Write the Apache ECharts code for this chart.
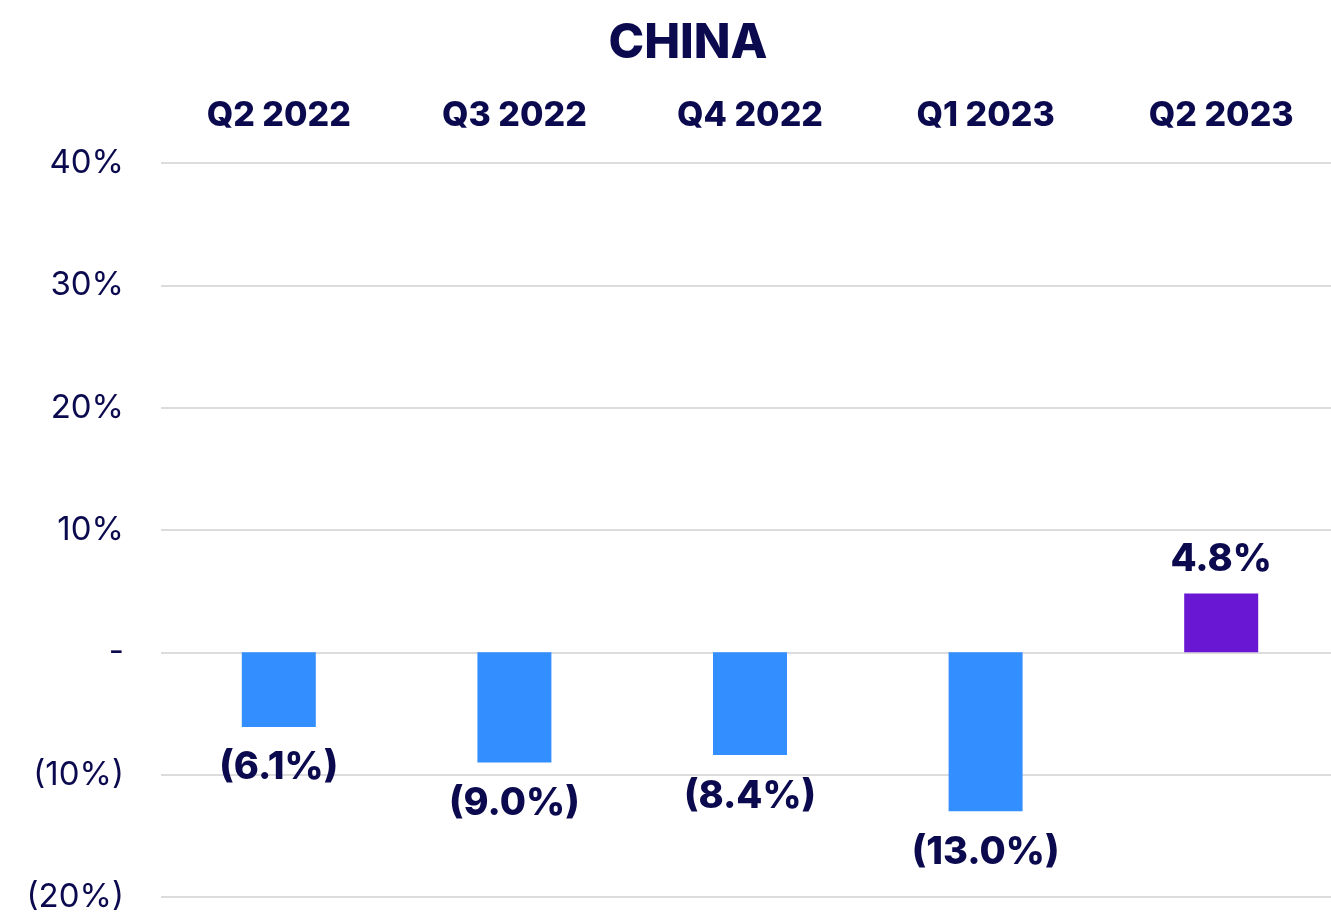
<!DOCTYPE html>
<html>
<head>
<meta charset="utf-8">
<script src="https://cdn.jsdelivr.net/npm/echarts@6/dist/echarts.min.js"></script>
<style>
  html, body { margin: 0; padding: 0; background: #fff; }
  #main { width: 1331px; height: 921px; }
</style>
</head>
<body>
<div id="main"></div>
<script>
const quarters = ['Q2 2022', 'Q3 2022', 'Q4 2022', 'Q1 2023', 'Q2 2023'];
const growth = [-6.1, -9.0, -8.4, -13.0, 4.8];
const barColors = ['#338fff', '#338fff', '#338fff', '#338fff', '#6a17d3'];
const yTicks = { min: -20, max: 40, step: 10 };

const navy = '#0b0a4e';
const fontFam = 'Inter, Lato, sans-serif';

function pct (v) {
  if (v === 0) return '-';
  return v < 0 ? '(' + Math.abs(v).toFixed(1) + '%)' : v.toFixed(1) + '%';
}

var myChart = echarts.init(document.getElementById('main'));

var option = {
  animation: false,
  title: {
    text: 'CHINA',
    left: 683,
    textAlign: 'center',
    top: 15,
    textStyle: { color: navy, fontSize: 48, fontWeight: 800, fontFamily: fontFam }
  },
  grid: { left: 161, right: -8, top: 163, bottom: 24, outerBoundsMode: 'none', containLabel: false },
  xAxis: {
    type: 'category',
    position: 'top',
    data: quarters,
    axisLine: { show: false },
    axisTick: { show: false },
    axisLabel: {
      color: navy, fontSize: 34, fontWeight: 800, fontFamily: fontFam,
      lineHeight: 40, margin: 27
    }
  },
  yAxis: {
    type: 'value',
    min: yTicks.min,
    max: yTicks.max,
    interval: yTicks.step,
    axisLine: { show: false },
    axisTick: { show: false },
    splitLine: { lineStyle: { color: '#dcdcdc', width: 2 } },
    axisLabel: {
      color: navy, fontSize: 33, fontFamily: fontFam, margin: 37,
      formatter: function (v) {
        if (v === 0) return '-';
        return v < 0 ? '(' + Math.abs(v) + '%)' : v + '%';
      }
    }
  },
  series: [{
    type: 'bar',
    barWidth: 74,
    data: growth.map(function (v, i) {
      return {
        value: v,
        itemStyle: { color: barColors[i] },
        label: {
          position: v < 0 ? 'bottom' : 'top',
          distance: v < 0 ? 19 : 12
        }
      };
    }),
    label: {
      show: true,
      color: navy, fontSize: 38, fontWeight: 800, fontFamily: fontFam,
      lineHeight: 44,
      formatter: function (p) { return pct(p.value); }
    }
  }]
};

myChart.setOption(option);
</script>
</body>
</html>
